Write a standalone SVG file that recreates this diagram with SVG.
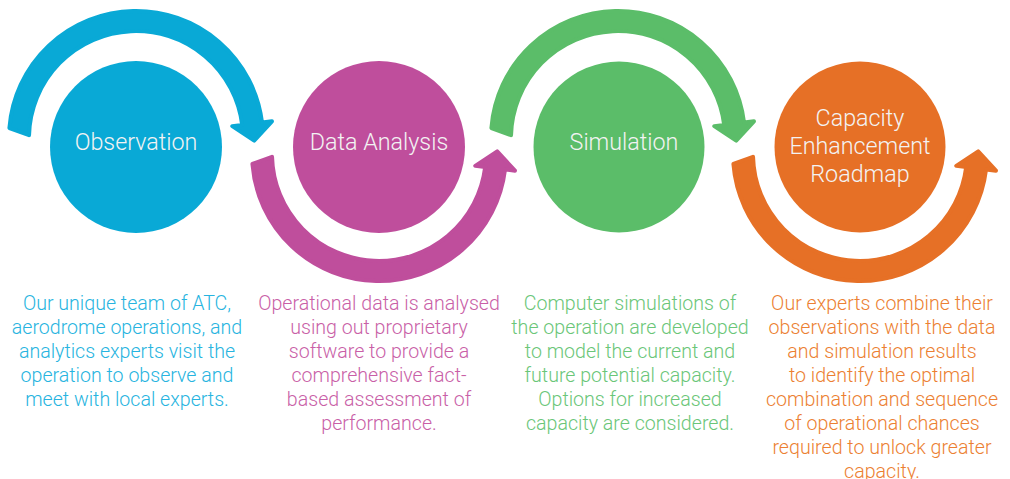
<svg xmlns="http://www.w3.org/2000/svg" xmlns:xlink="http://www.w3.org/1999/xlink" width="1010" height="479" viewBox="0 0 1010 479">
<style>
.lbl{font-family:Roboto,"Liberation Sans",sans-serif;font-weight:300;font-size:23.3px;fill:#F3F3F3;text-anchor:middle}
.desc{font-family:Roboto,"Liberation Sans",sans-serif;font-weight:300;font-size:19.6px;text-anchor:middle}
.arr{stroke-width:4;stroke-linejoin:round}
</style>
<defs>
<path id="arrow" d="M -126.61 -9.96 A 127 127 0 0 1 126.05 -15.48 L 135.98 -16.70 L 118.20 2.61 L 96.28 -11.82 L 106.20 -13.04 A 107 107 0 0 0 -106.96 -2.80 Z"/>
</defs>
<rect width="1010" height="479" fill="#FFFFFF"/>
<g id="connectors">
<use xlink:href="#arrow" class="arr" fill="#09A9D6" stroke="#09A9D6" transform="translate(136,138)"/>
<use xlink:href="#arrow" class="arr" fill="#BF4E9C" stroke="#BF4E9C" transform="translate(379,154) scale(1,-1)"/>
<use xlink:href="#arrow" class="arr" fill="#5BBD69" stroke="#5BBD69" transform="translate(618,138)"/>
<use xlink:href="#arrow" class="arr" fill="#E67026" stroke="#E67026" transform="translate(860,154) scale(1,-1)"/>
</g>
<g id="observation">
<circle cx="136" cy="147" r="86" fill="#09A9D6"/>
<text class="lbl" x="136" y="150">Observation</text>
<text class="desc" fill="#27B4E0"><tspan x="127" y="310">Our unique team of ATC,</tspan><tspan x="127" y="334">aerodrome operations, and</tspan><tspan x="127" y="358">analytics experts visit the</tspan><tspan x="127" y="382">operation to observe and</tspan><tspan x="127" y="406">meet with local experts.</tspan></text>
</g>
<g id="data-analysis">
<circle cx="379" cy="147" r="86" fill="#BF4E9C"/>
<text class="lbl" x="379" y="150">Data Analysis</text>
<text class="desc" fill="#C95FA7"><tspan x="379" y="310">Operational data is analysed</tspan><tspan x="379" y="334">using out proprietary</tspan><tspan x="379" y="358">software to provide a</tspan><tspan x="379" y="382">comprehensive fact-</tspan><tspan x="379" y="406">based assessment of</tspan><tspan x="379" y="430">performance.</tspan></text>
</g>
<g id="simulation">
<circle cx="619" cy="147" r="85.5" fill="#5BBD69"/>
<text class="lbl" x="624" y="150">Simulation</text>
<text class="desc" fill="#6AC678"><tspan x="630" y="310">Computer simulations of</tspan><tspan x="630" y="334">the operation are developed</tspan><tspan x="630" y="358">to model the current and</tspan><tspan x="630" y="382">future potential capacity.</tspan><tspan x="630" y="406">Options for increased</tspan><tspan x="630" y="430">capacity are considered.</tspan></text>
</g>
<g id="roadmap">
<circle cx="860" cy="147" r="85.5" fill="#E67026"/>
<text class="lbl"><tspan x="860" y="126">Capacity</tspan><tspan x="860" y="154">Enhancement</tspan><tspan x="860" y="182">Roadmap</tspan></text>
<text class="desc" fill="#EC7F32"><tspan x="882" y="310">Our experts combine their</tspan><tspan x="882" y="334">observations with the data</tspan><tspan x="882" y="358">and simulation results</tspan><tspan x="882" y="382">to identify the optimal</tspan><tspan x="882" y="406">combination and sequence</tspan><tspan x="882" y="430">of operational chances</tspan><tspan x="882" y="454">required to unlock greater</tspan><tspan x="882" y="478">capacity.</tspan></text>
</g>
</svg>
